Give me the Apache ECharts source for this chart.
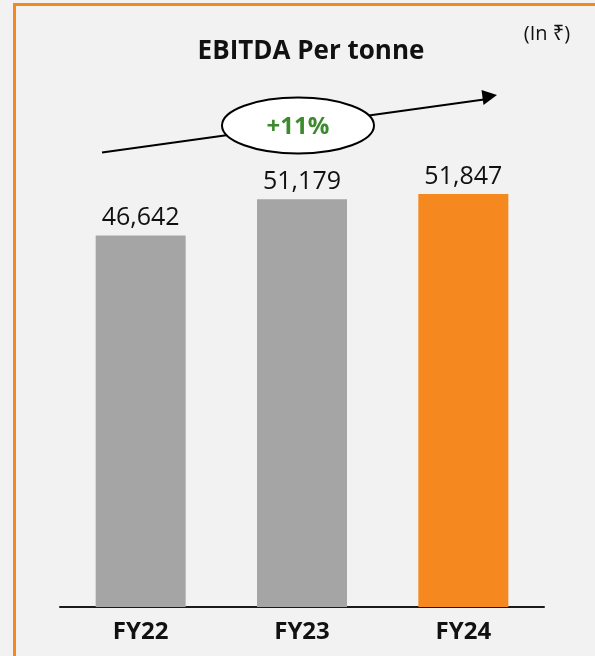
<!DOCTYPE html>
<html>
<head>
<meta charset="utf-8">
<script src="https://cdn.jsdelivr.net/npm/echarts@6/dist/echarts.min.js"></script>
<style>
  html, body { margin: 0; padding: 0; background: #f2f2f2; }
  #chart { width: 595px; height: 656px; }
</style>
</head>
<body>
<div id="chart"></div>
<script>
const categories = ['FY22', 'FY23', 'FY24']
const values = [46642, 51179, 51847]
const barColors = ['#a5a5a5', '#a5a5a5', '#f5881f']
const growthLabel = '+11%'

const chart = echarts.init(document.getElementById('chart'))
const font = '"Open Sans", "Noto Sans", sans-serif'

chart.setOption({
  backgroundColor: '#f2f2f2',
  animation: false,
  grid: { left: 60, right: 51, top: 129, bottom: 49 },
  xAxis: {
    type: 'category',
    data: categories,
    axisLine: { show: true, lineStyle: { color: '#1a1a1a', width: 2 } },
    axisTick: { show: false },
    axisLabel: {
      color: '#111',
      fontFamily: font,
      fontWeight: 'bold',
      fontSize: 24,
      margin: 13,
    },
  },
  yAxis: {
    type: 'value',
    min: 0,
    max: 60000,
    show: false,
    splitLine: { show: false },
  },
  series: [
    {
      type: 'bar',
      barWidth: 90,
      data: values.map((v, i) => ({ value: v, itemStyle: { color: barColors[i] } })),
      label: {
        show: true,
        position: 'top',
        distance: 5,
        color: '#111',
        fontFamily: font,
        fontSize: 25,
        formatter: p => p.value.toLocaleString('en-US'),
      },
    },
  ],
  graphic: [
    // orange frame, right/bottom edges fall outside the picture
    {
      type: 'rect',
      shape: { x: 14.5, y: 4.5, width: 700, height: 800 },
      style: { fill: null, stroke: '#f5881f', lineWidth: 3 },
      z: 100,
    },
    {
      type: 'text',
      x: 311,
      y: 52,
      style: {
        text: 'EBITDA Per tonne',
        fill: '#111',
        font: 'bold 26px ' + font,
        align: 'center',
        verticalAlign: 'middle',
      },
    },
    {
      type: 'text',
      x: 547,
      y: 34,
      style: {
        text: '(In ₹)',
        fill: '#111',
        font: '20px ' + font,
        align: 'center',
        verticalAlign: 'middle',
      },
    },
    // growth arrow
    {
      type: 'line',
      shape: { x1: 102, y1: 152.5, x2: 484, y2: 99.5 },
      style: { stroke: '#000', lineWidth: 2 },
    },
    {
      type: 'polygon',
      shape: { points: [[497, 95], [481.5, 90], [483.5, 105]] },
      style: { fill: '#000' },
    },
    {
      type: 'ellipse',
      shape: { cx: 298, cy: 125.5, rx: 76, ry: 28 },
      style: { fill: '#fff', stroke: '#000', lineWidth: 2 },
    },
    {
      type: 'text',
      x: 298,
      y: 127,
      style: {
        text: growthLabel,
        fill: '#3b8a2c',
        font: 'bold 24px ' + font,
        align: 'center',
        verticalAlign: 'middle',
      },
    },
  ],
})
</script>
</body>
</html>
